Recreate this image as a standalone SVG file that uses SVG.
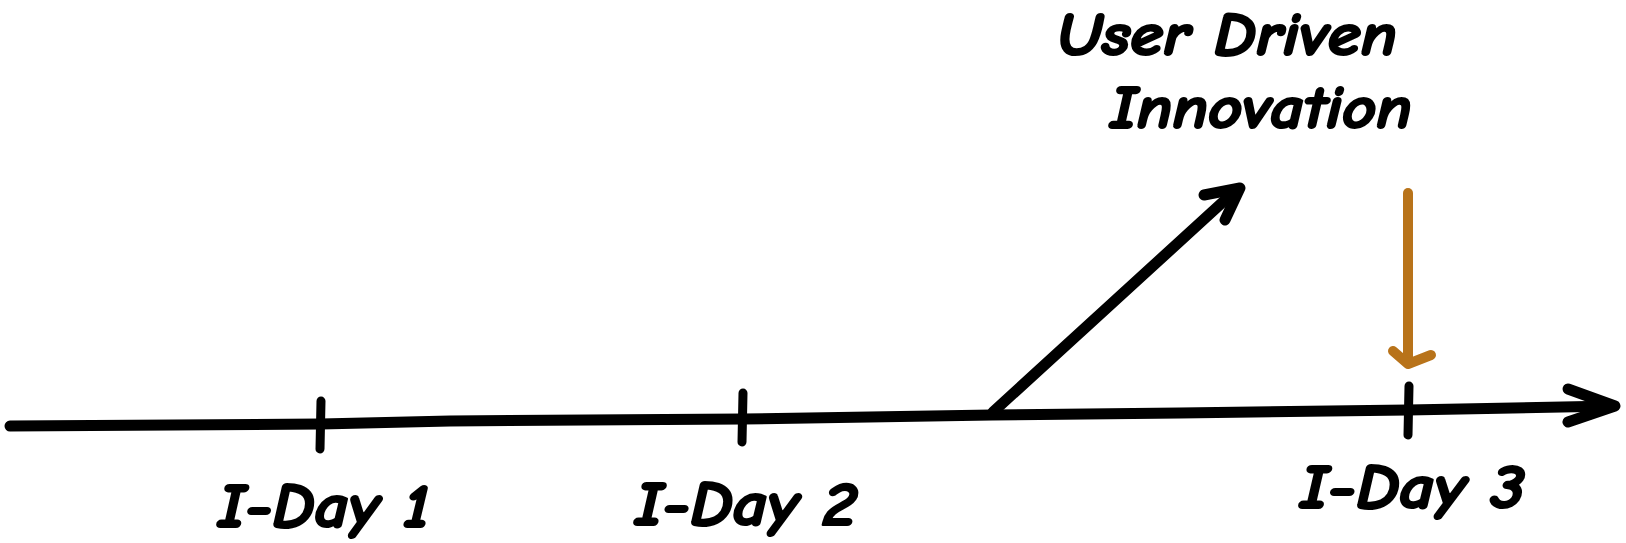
<svg xmlns="http://www.w3.org/2000/svg" width="1626" height="543" viewBox="0 0 1626 543">
<style>
.ln{fill:none;stroke:#000;stroke-width:11;stroke-linecap:round;stroke-linejoin:round}
.tk{fill:none;stroke:#000;stroke-width:9;stroke-linecap:round}
.or{fill:none;stroke:#B8731A;stroke-width:10;stroke-linecap:round;stroke-linejoin:round}
.t{font-family:"Comic Sans MS","Comic Neue","Noto Sans",sans-serif;font-weight:bold;font-style:italic;fill:#000;stroke:#000;stroke-width:2.2;stroke-linejoin:round}
</style>
<rect width="1626" height="543" fill="#fff"/>
<g id="connectors">
<polyline class="ln" points="10,426 321,424 450,421 743,419 992,415 1180,413 1408,410 1613,406"/>
<polyline class="ln" points="1568,389 1615,406 1568,422"/>
<line class="ln" x1="993" y1="412" x2="1236" y2="190"/>
<polyline class="ln" points="1204,195 1240,188 1225,220"/>
<line class="or" x1="1408" y1="193" x2="1408" y2="362"/>
<polyline class="or" points="1393,351 1408,364 1431,355"/>
</g>
<g id="tick1"><line class="tk" x1="321" y1="401" x2="320" y2="449"/><text class="t" x="218" y="527" font-size="62" textLength="212" lengthAdjust="spacingAndGlyphs">I-Day 1</text></g>
<g id="tick2"><line class="tk" x1="743" y1="393" x2="742" y2="442"/><text class="t" x="635" y="525" font-size="62" textLength="222" lengthAdjust="spacingAndGlyphs">I-Day 2</text></g>
<g id="tick3"><line class="tk" x1="1409" y1="386" x2="1408" y2="435"/><text class="t" x="1300" y="508" font-size="62" textLength="225" lengthAdjust="spacingAndGlyphs">I-Day 3</text></g>
<g id="udi">
<text class="t" x="1057" y="55" font-size="60" textLength="340" lengthAdjust="spacingAndGlyphs">User Driven</text>
<text class="t" x="1110" y="128" font-size="60" textLength="302" lengthAdjust="spacingAndGlyphs">Innovation</text>
</g>
</svg>
